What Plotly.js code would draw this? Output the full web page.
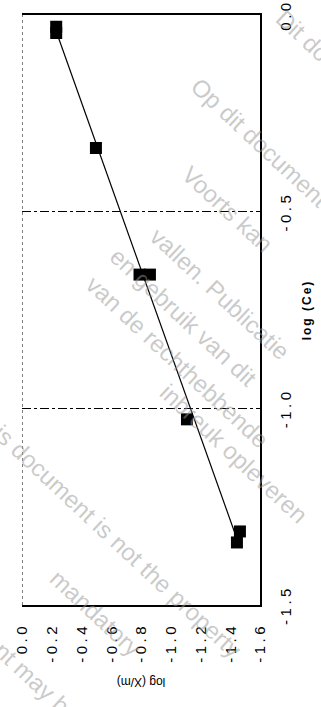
<!DOCTYPE html>
<html>
<head>
<meta charset="utf-8">
<script src="https://cdn.plot.ly/plotly-3.0.1.min.js"></script>
<style>
html,body{margin:0;padding:0;width:321px;height:707px;overflow:hidden;background:#fff;}
#chart{position:absolute;left:0;top:0;width:707px;height:321px;transform-origin:0 0;transform:translateY(707px) rotate(-90deg);}
#chart .xtick text, #chart .ytick text{letter-spacing:3.5px;}
#chart .g-xtitle text{letter-spacing:2px;}
#wm{position:absolute;left:0;top:0;width:321px;height:707px;pointer-events:none;overflow:hidden;}
.wm{position:absolute;white-space:nowrap;transform-origin:0 0;transform:rotate(43deg);color:rgba(150,150,150,0.5);font-family:"Liberation Sans",Arial,sans-serif;font-size:24px;line-height:1;}
</style>
</head>
<body>
<div id="chart"></div>
<div id="wm"></div>
<script>
// Data
const logCe = [-0.03, -0.046, -0.338, -0.66, -0.66, -1.028, -1.313, -1.341];
const logXm = [-0.23, -0.23, -0.497, -0.79, -0.86, -1.109, -1.465, -1.445];

const xTickVals = [-1.5, -1.0, -0.5, 0.0];
const xTickText = ["-1.5", "-1.0", "-0.5", "0.0"];
const yTickVals = [0.0, -0.2, -0.4, -0.6, -0.8, -1.0, -1.2, -1.4, -1.6];
const yTickText = ["0.0", "-0.2", "-0.4", "-0.6", "-0.8", "-1.0", "-1.2", "-1.4", "-1.6"];

const xTitle = "log (Ce)";
const yTitle = "log (X/m)";

// watermark text lines
const wmText = ["Dit document is door NEN", "Op dit document", "Voorts kan", "vallen. Publicatie", "en gebruik van dit", "van de rechthebbende", "inbreuk opleveren", "This document is not the property", "mandatory", "document may be"];
const wmX = [288, 203, 194, 162, 122, 98, 172, -15, 62, -56];
const wmY = [6, 74, 162, 224, 244, 272, 380, 402, 566, 580];

// least-squares fit line
const n = logCe.length;
const mx = logCe.reduce((a, b) => a + b, 0) / n;
const my = logXm.reduce((a, b) => a + b, 0) / n;
let sxy = 0, sxx = 0;
for (let i = 0; i < n; i++) { sxy += (logCe[i] - mx) * (logXm[i] - my); sxx += (logCe[i] - mx) ** 2; }
const slope = sxy / sxx, icpt = my - slope * mx;
const fitX = [Math.min(...logCe), Math.max(...logCe)];
const fitY = fitX.map(v => icpt + slope * v);

const traces = [
  {x: fitX, y: fitY, mode: 'lines', line: {color: '#000', width: 1.2}, hoverinfo: 'skip'},
  {x: logCe, y: logXm, mode: 'markers', marker: {symbol: 'square', size: 12, color: '#000'}}
];

const layout = {
  width: 707, height: 321,
  margin: {l: 102, r: 15, t: 22, b: 61},
  paper_bgcolor: '#fff', plot_bgcolor: '#fff',
  font: {family: '"Liberation Sans", Arial, sans-serif', color: '#000', size: 15},
  showlegend: false,
  xaxis: {
    range: [-1.5, 0], tickvals: xTickVals, ticktext: xTickText,
    showgrid: true, gridcolor: '#000', griddash: 'dashdot', gridwidth: 1,
    showline: true, linecolor: '#000', linewidth: 2, mirror: false,
    zeroline: false, ticks: '', ticklabelstandoff: 11,
    title: {text: xTitle, font: {size: 12, weight: 'bold'}, standoff: 10}
  },
  yaxis: {
    range: [-1.6, 0], tickvals: yTickVals, ticktext: yTickText,
    showgrid: false, showline: true, linecolor: '#000', linewidth: 2, mirror: true,
    zeroline: false, ticks: '', ticklabelstandoff: 13,
    title: {text: yTitle, font: {size: 12}, standoff: 26}
  },
  shapes: [
    {type: 'line', xref: 'paper', yref: 'y', x0: 0, x1: 1, y0: 0, y1: 0, line: {color: '#000', width: 1, dash: 'dot'}}
  ]
};

Plotly.newPlot('chart', traces, layout, {staticPlot: true, displayModeBar: false});

const wm = document.getElementById('wm');
wmText.forEach((t, i) => {
  const d = document.createElement('div');
  d.className = 'wm';
  d.textContent = t;
  d.style.left = wmX[i] + 'px';
  d.style.top = wmY[i] + 'px';
  wm.appendChild(d);
});
</script>
</body>
</html>
